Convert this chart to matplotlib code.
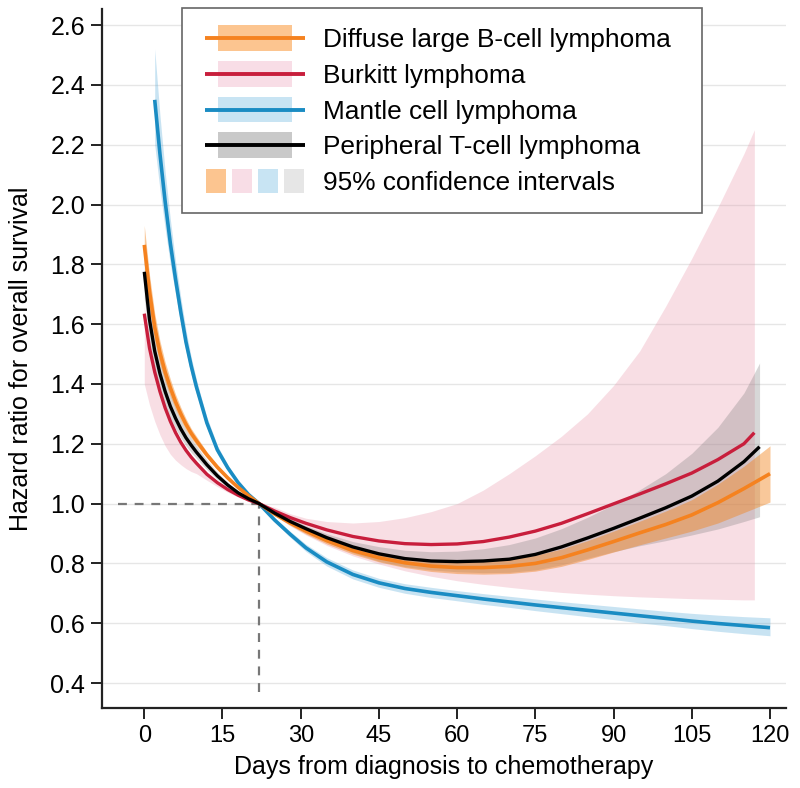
import numpy as np
import matplotlib
matplotlib.use('Agg')
import matplotlib.pyplot as plt
from matplotlib.legend_handler import HandlerBase
from matplotlib.patches import Rectangle
from matplotlib.lines import Line2D

plt.rcParams['font.family'] = ['Liberation Sans', 'DejaVu Sans']

# ---- data ----
# common day grid for the curves that start at day 0
days = [0, 1, 2, 3, 4, 5, 6, 7, 8, 9, 10, 12, 14, 16, 18, 20, 22, 25, 28, 31, 35,
        40, 45, 50, 55, 60, 65, 70, 75, 80, 85, 90, 95, 100, 105, 110, 115]

# Diffuse large B-cell lymphoma (to day 120)
dlbcl_days = days + [120]
dlbcl_hr = [1.865, 1.71, 1.59, 1.505, 1.44, 1.387, 1.34, 1.30, 1.265, 1.235, 1.21,
            1.163, 1.122, 1.086, 1.054, 1.026, 1.0, 0.965, 0.935, 0.908, 0.876,
            0.843, 0.819, 0.802, 0.791, 0.786, 0.786, 0.79, 0.80, 0.819, 0.845,
            0.873, 0.902, 0.93, 0.962, 1.003, 1.05, 1.10]
dlbcl_hi = [1.93, 1.765, 1.636, 1.544, 1.473, 1.416, 1.365, 1.322, 1.284, 1.251, 1.225,
            1.173, 1.130, 1.091, 1.057, 1.027, 1.0, 0.97, 0.943, 0.918, 0.887,
            0.855, 0.833, 0.818, 0.809, 0.806, 0.808, 0.814, 0.827, 0.848, 0.876,
            0.908, 0.941, 0.975, 1.013, 1.065, 1.125, 1.193]
dlbcl_lo = [1.80, 1.655, 1.544, 1.466, 1.407, 1.358, 1.315, 1.278, 1.246, 1.219, 1.195,
            1.153, 1.114, 1.081, 1.051, 1.025, 1.0, 0.96, 0.927, 0.898, 0.865,
            0.831, 0.805, 0.786, 0.773, 0.766, 0.764, 0.766, 0.774, 0.79, 0.813,
            0.838, 0.862, 0.885, 0.908, 0.935, 0.97, 1.005]

# Burkitt lymphoma (to day 117)
burkitt_days = days + [117]
burkitt_hr = [1.635, 1.52, 1.44, 1.375, 1.32, 1.275, 1.237, 1.205, 1.178, 1.155, 1.135,
              1.098, 1.07, 1.047, 1.028, 1.012, 1.0, 0.975, 0.953, 0.934, 0.912,
              0.89, 0.875, 0.866, 0.863, 0.865, 0.873, 0.888, 0.908, 0.934, 0.966,
              0.999, 1.032, 1.066, 1.102, 1.147, 1.20, 1.237]
burkitt_hi = [1.66, 1.54, 1.455, 1.388, 1.331, 1.285, 1.245, 1.212, 1.184, 1.16, 1.14,
              1.102, 1.073, 1.049, 1.03, 1.013, 1.0, 0.988, 0.966, 0.951, 0.94,
              0.935, 0.94, 0.953, 0.973, 1.0, 1.045, 1.10, 1.16, 1.225, 1.30,
              1.395, 1.51, 1.66, 1.82, 1.99, 2.17, 2.25]
burkitt_lo = [1.40, 1.33, 1.275, 1.23, 1.193, 1.165, 1.145, 1.13, 1.117, 1.107, 1.10,
              1.078, 1.057, 1.038, 1.022, 1.009, 1.0, 0.96, 0.925, 0.895, 0.86,
              0.825, 0.798, 0.775, 0.757, 0.742, 0.73, 0.72, 0.711, 0.703, 0.697,
              0.692, 0.688, 0.685, 0.682, 0.68, 0.678, 0.678]

# Mantle cell lymphoma (day 2 to 120)
mcl_days = [2, 3, 4, 5, 6, 7, 8, 9, 10, 11, 12, 14, 16, 18, 20, 22, 25, 28, 31, 35,
            40, 45, 50, 55, 60, 65, 70, 75, 80, 85, 90, 95, 100, 105, 110, 115, 120]
mcl_hr = [2.35, 2.17, 2.01, 1.87, 1.75, 1.64, 1.54, 1.46, 1.39, 1.33, 1.27, 1.18,
          1.12, 1.07, 1.03, 1.0, 0.945, 0.897, 0.852, 0.805, 0.763, 0.735, 0.716,
          0.703, 0.692, 0.681, 0.671, 0.661, 0.652, 0.643, 0.634, 0.625, 0.616,
          0.607, 0.599, 0.592, 0.585]
mcl_hi = [2.52, 2.30, 2.11, 1.95, 1.81, 1.69, 1.58, 1.49, 1.415, 1.35, 1.29, 1.195,
          1.13, 1.075, 1.033, 1.0, 0.952, 0.907, 0.864, 0.819, 0.778, 0.75, 0.732,
          0.72, 0.709, 0.699, 0.69, 0.681, 0.672, 0.664, 0.656, 0.648, 0.640,
          0.633, 0.627, 0.622, 0.618]
mcl_lo = [2.20, 2.05, 1.92, 1.80, 1.70, 1.60, 1.51, 1.43, 1.367, 1.31, 1.253, 1.167,
          1.11, 1.065, 1.027, 1.0, 0.938, 0.887, 0.84, 0.791, 0.748, 0.72, 0.70,
          0.686, 0.675, 0.663, 0.653, 0.642, 0.632, 0.622, 0.612, 0.601, 0.592,
          0.582, 0.573, 0.565, 0.558]

# Peripheral T-cell lymphoma (to day 118)
ptcl_days = days + [118]
ptcl_hr = [1.775, 1.615, 1.51, 1.435, 1.375, 1.325, 1.285, 1.25, 1.22, 1.195, 1.172,
           1.13, 1.093, 1.062, 1.036, 1.016, 1.0, 0.968, 0.94, 0.916, 0.886,
           0.855, 0.832, 0.816, 0.808, 0.806, 0.808, 0.814, 0.83, 0.855, 0.885,
           0.917, 0.951, 0.986, 1.025, 1.075, 1.14, 1.19]
ptcl_hi = [1.864, 1.688, 1.57, 1.487, 1.42, 1.365, 1.32, 1.28, 1.247, 1.219, 1.193,
           1.146, 1.105, 1.07, 1.041, 1.018, 1.0, 0.975, 0.95, 0.926, 0.899,
           0.873, 0.856, 0.844, 0.839, 0.841, 0.849, 0.863, 0.885, 0.916, 0.954,
           0.997, 1.046, 1.10, 1.168, 1.255, 1.37, 1.47]
ptcl_lo = [1.686, 1.542, 1.45, 1.383, 1.33, 1.285, 1.25, 1.22, 1.193, 1.171, 1.151,
           1.114, 1.081, 1.054, 1.031, 1.014, 1.0, 0.962, 0.93, 0.905, 0.872,
           0.836, 0.807, 0.789, 0.778, 0.772, 0.769, 0.77, 0.778, 0.795, 0.817,
           0.839, 0.859, 0.876, 0.895, 0.915, 0.94, 0.956]

ref_day = 22
ref_hr = 1.0

labels = ['Diffuse large B-cell lymphoma', 'Burkitt lymphoma',
          'Mantle cell lymphoma', 'Peripheral T-cell lymphoma',
          '95% confidence intervals']
xticks = [0, 15, 30, 45, 60, 75, 90, 105, 120]
yticks = [0.4, 0.6, 0.8, 1.0, 1.2, 1.4, 1.6, 1.8, 2.0, 2.2, 2.4, 2.6]

# colours
c_orange, band_orange = '#f5821f', '#f2851f'
c_red, band_red = '#c81e3c', '#e894a8'
c_blue, band_blue = '#1a8cc3', '#4ba5d7'
c_black, band_gray = '#000000', '#7d7d7d'
leg_band = ['#fcc590', '#f8dde6', '#c8e4f3', '#c9c9c9']
leg_square = ['#fcc590', '#f8dde6', '#c8e4f3', '#e6e6e6']

HANDLE_SHIFT = 3.6  # points, pushes the legend keys a little to the right


class Key(object):
    def __init__(self, line, band):
        self.line = line
        self.band = band


class BandHandler(HandlerBase):
    def create_artists(self, legend, orig_handle, xdescent, ydescent,
                       width, height, fontsize, trans):
        x0, y0 = -xdescent + HANDLE_SHIFT, -ydescent
        r = Rectangle((x0 + 0.13 * width, y0 - 0.05 * height), 0.74 * width,
                      1.1 * height, facecolor=orig_handle.band, edgecolor='none',
                      transform=trans)
        l = Line2D([x0, x0 + width], [y0 + height / 2] * 2, color=orig_handle.line,
                   lw=2.8, solid_capstyle='butt', transform=trans)
        return [r, l]


class SquaresHandler(HandlerBase):
    def create_artists(self, legend, orig_handle, xdescent, ydescent,
                       width, height, fontsize, trans):
        x0, y0 = -xdescent + HANDLE_SHIFT, -ydescent
        out = []
        for i, c in enumerate(orig_handle.band):
            out.append(Rectangle((x0 + 0.01 * width + i * 0.26 * width, y0 - 0.03 * height),
                                 0.2 * width, 1.06 * height, facecolor=c,
                                 edgecolor='none', transform=trans))
        return out


fig = plt.figure(figsize=(8, 7.88), dpi=100)
ax = fig.add_axes([0.1271, 0.1015, 0.8554, 0.887])

# confidence bands
ax.fill_between(burkitt_days, burkitt_lo, burkitt_hi, color=band_red, alpha=0.3,
                lw=0, zorder=1)
ax.fill_between(ptcl_days, ptcl_lo, ptcl_hi, color=band_gray, alpha=0.3, lw=0, zorder=2)
ax.fill_between(dlbcl_days, dlbcl_lo, dlbcl_hi, color=band_orange, alpha=0.45, lw=0,
                zorder=3)
ax.fill_between(mcl_days, mcl_lo, mcl_hi, color=band_blue, alpha=0.3, lw=0, zorder=3)

# reference lines
ax.plot([-5, ref_day], [ref_hr, ref_hr], color='#777777', lw=1.6, ls=(0, (4, 3.5)),
        zorder=4)
ax.plot([ref_day, ref_day], [0.37, ref_hr], color='#777777', lw=1.6, ls=(0, (4, 3.5)),
        zorder=4)

# estimates
ax.plot(mcl_days, mcl_hr, color=c_blue, lw=2.6, zorder=5, solid_capstyle='butt')
ax.plot(dlbcl_days, dlbcl_hr, color=c_orange, lw=2.6, zorder=6, solid_capstyle='butt')
ax.plot(burkitt_days, burkitt_hr, color=c_red, lw=2.4, zorder=7, solid_capstyle='butt')
ax.plot(ptcl_days, ptcl_hr, color=c_black, lw=2.4, zorder=8, solid_capstyle='butt')

ax.set_xlim(-8.17, 123.07)
ax.set_ylim(0.3164, 2.6535)
ax.set_xticks(xticks)
ax.set_yticks(yticks)
ax.set_yticklabels(['%.1f' % v for v in yticks])
ax.yaxis.grid(True, color='#e6e6e6', lw=1.0, zorder=0)
ax.set_axisbelow(True)
for s in ['top', 'right']:
    ax.spines[s].set_visible(False)
for s in ['left', 'bottom']:
    ax.spines[s].set_linewidth(1.6)
    ax.spines[s].set_color('#222222')
ax.tick_params(axis='both', length=8, width=1.4, color='#222222', pad=4)
ax.tick_params(axis='y', labelsize=18)
ax.tick_params(axis='x', labelsize=17)
ax.set_xlabel('Days from diagnosis to chemotherapy', fontsize=18, labelpad=6)
ax.set_ylabel('Hazard ratio for overall survival', fontsize=18, labelpad=12)

keys = [Key(c_orange, leg_band[0]), Key(c_red, leg_band[1]),
        Key(c_blue, leg_band[2]), Key(c_black, leg_band[3])]
sq = Key(None, leg_square)
leg = ax.legend(keys + [sq], labels,
                handler_map={keys[0]: BandHandler(), keys[1]: BandHandler(),
                             keys[2]: BandHandler(), keys[3]: BandHandler(),
                             sq: SquaresHandler()},
                loc='upper left', mode='expand',
                bbox_to_anchor=(182 / 800, 1 - 209 / 788, 520 / 800, 201 / 788),
                bbox_transform=fig.transFigure, borderaxespad=0,
                fontsize=18.9, handlelength=3.8, handleheight=1.0,
                handletextpad=0.88, labelspacing=0.38, borderpad=0.7,
                fancybox=False, framealpha=1, edgecolor='#666666')
leg.get_frame().set_linewidth(1.2)
leg.set_zorder(10)

fig.savefig('out.png', dpi=100)
